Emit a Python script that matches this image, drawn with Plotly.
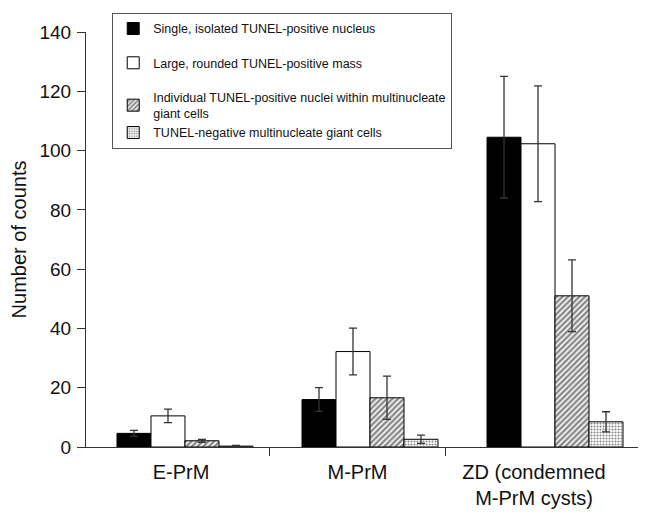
import plotly.graph_objects as go

categories = ["E-PrM", "M-PrM", "ZD (condemned<br>M-PrM cysts)"]
series_names = [
    "Single, isolated TUNEL-positive nucleus",
    "Large, rounded TUNEL-positive mass",
    "Individual TUNEL-positive nuclei within multinucleate<br>giant cells",
    "TUNEL-negative multinucleate giant cells",
]
single_vals = [4.6, 16.0, 104.5]
single_err = [1.0, 4.0, 20.5]
large_vals = [10.5, 32.2, 102.3]
large_err = [2.3, 7.9, 19.5]
indiv_vals = [2.1, 16.6, 51.0]
indiv_err = [0.5, 7.3, 12.1]
negative_vals = [0.3, 2.6, 8.5]
negative_err = [0.2, 1.4, 3.4]
y_ticks = [0, 20, 40, 60, 80, 100, 120, 140]

FONT = "Liberation Sans, Arial, sans-serif"
x_pos = list(range(len(categories)))

styles = [
    dict(color="black"),
    dict(color="white"),
    dict(color="white", pattern=dict(shape="/", fgcolor="#111", bgcolor="white", size=4, solidity=0.62)),
    dict(color="white", pattern=dict(shape=".", fgcolor="#111", bgcolor="white", size=3, solidity=0.4)),
]
values = [single_vals, large_vals, indiv_vals, negative_vals]
errors = [single_err, large_err, indiv_err, negative_err]
groups = ["g0", "g1", "g2", "g2"]

fig = go.Figure()
for name, v, e, st, g in zip(series_names, values, errors, styles, groups):
    fig.add_trace(go.Bar(
        x=x_pos, y=v, name=name, legendgroup=g,
        marker=dict(line=dict(color="black", width=1), **st),
        error_y=dict(type="data", array=e, visible=True, color="#333", thickness=1.3, width=4),
    ))

# invisible trace to activate the category label axis
fig.add_trace(go.Scatter(x=x_pos, y=[None] * len(x_pos), xaxis="x2", showlegend=False, hoverinfo="skip"))

fig.update_layout(
    width=638, height=509,
    margin=dict(l=78, r=2, t=24, b=70),
    paper_bgcolor="white", plot_bgcolor="white",
    font=dict(family=FONT, color="#111"),
    barmode="group", bargap=0.265, bargroupgap=0,
    showlegend=True,
    legend=dict(
        x=0.047, y=1.046, xanchor="left", yanchor="top",
        bgcolor="white", bordercolor="#555", borderwidth=1,
        font=dict(size=12.5, family=FONT, color="#111"),
        tracegroupgap=15, itemwidth=30,
    ),
    xaxis=dict(
        range=[-0.535, 2.481], showline=True, linecolor="#333", linewidth=1,
        showticklabels=False, ticks="", showgrid=False, zeroline=False,
    ),
    xaxis2=dict(
        overlaying="x", anchor="y", side="bottom",
        range=[-0.538, 2.623], tickmode="array", tickvals=x_pos, ticktext=categories,
        ticks="", showline=False, showgrid=False, zeroline=False,
        ticklabelstandoff=11,
        tickfont=dict(size=20, family=FONT, color="#111"),
        minor=dict(tickmode="array", tickvals=[0.5, 1.5], ticks="outside", ticklen=8,
                   tickcolor="#333", tickwidth=1, showgrid=False),
    ),
    yaxis=dict(
        range=[0, 140], tickvals=y_ticks, ticks="outside", ticklen=8, tickcolor="#333",
        showline=True, linecolor="#333", linewidth=1, showgrid=False, zeroline=False,
        ticklabelstandoff=2,
        tickfont=dict(size=19, family=FONT, color="#111"),
        title=dict(text="Number of counts", font=dict(size=20, family=FONT, color="#111"), standoff=10),
    ),
)

fig.write_html("out.html")
